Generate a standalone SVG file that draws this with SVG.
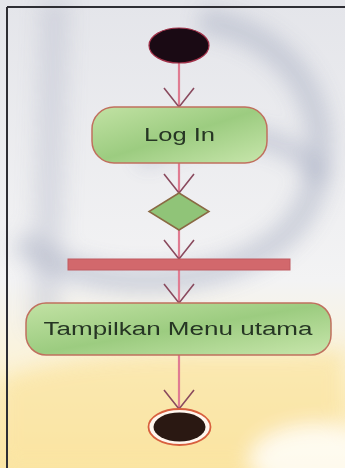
<svg xmlns="http://www.w3.org/2000/svg" width="345" height="468" viewBox="0 0 345 468">
<defs>
<filter id="blur" x="-50%" y="-50%" width="200%" height="200%"><feGaussianBlur stdDeviation="10"/></filter>
<linearGradient id="bg" x1="0" y1="0" x2="0" y2="1">
<stop offset="0" stop-color="#e4e5ea"/>
<stop offset="0.6" stop-color="#f3f3f4"/>
<stop offset="0.8" stop-color="#fcf3d6"/>
<stop offset="1" stop-color="#fbe6a6"/>
</linearGradient>
<linearGradient id="green" x1="0" y1="0" x2="1" y2="1">
<stop offset="0" stop-color="#c2e2a4"/>
<stop offset="0.5" stop-color="#9ccc80"/>
<stop offset="1" stop-color="#c8e6ac"/>
</linearGradient>
<marker id="arr" markerWidth="22" markerHeight="32" refX="20" refY="16" orient="auto" markerUnits="userSpaceOnUse" viewBox="0 0 22 32">
<path d="M1,1 L20,16 L1,31" fill="none" stroke="#8a4a5e" stroke-width="1.6"/>
</marker>
<style>
.lbl{font-family:"Liberation Sans",Arial,sans-serif;font-size:18px;fill:#263624;text-anchor:middle}
.act{fill:url(#green);stroke:#c0705e;stroke-width:1.5}
.flow{stroke:#e07c92;stroke-width:2.2;fill:none}
</style>
</defs>
<g id="background">
<rect x="0" y="0" width="345" height="468" fill="url(#bg)"/>
<g filter="url(#blur)" opacity="0.8">
<path d="M40,0 L70,0 L60,330 L30,330 Z" fill="#b8bccb" opacity="0.5"/>
<path d="M200,20 C330,40 345,170 290,230 C230,290 90,300 20,240" fill="none" stroke="#9aa1ba" stroke-width="26" opacity="0.5"/>
<path d="M140,160 C200,120 300,130 320,180" fill="none" stroke="#8f97b2" stroke-width="20" opacity="0.45"/>
<path d="M0,380 C100,340 250,360 345,350 L345,420 L260,468 L0,468 Z" fill="#fbe3a0" opacity="0.9"/>
<ellipse cx="320" cy="460" rx="70" ry="35" fill="#ffffff"/>
</g>
<path d="M7,7 L345,7" stroke="#2e2e34" stroke-width="2"/>
<path d="M7,7 L7,468" stroke="#2e2e34" stroke-width="2"/>
</g>
<g id="connectors">
<path class="flow" d="M179,63 L179,107" marker-end="url(#arr)"/>
<path class="flow" d="M179,163 L179,193" marker-end="url(#arr)"/>
<path class="flow" d="M179,230 L179,259" marker-end="url(#arr)"/>
<path class="flow" d="M179,270 L179,303" marker-end="url(#arr)"/>
<path class="flow" d="M179,355 L179,409" marker-end="url(#arr)"/>
</g>
<g id="start">
<ellipse cx="179" cy="45.5" rx="30" ry="17.5" fill="#1a0a14" stroke="#a03048" stroke-width="1.2"/>
</g>
<g id="login">
<rect class="act" x="92" y="107" width="175" height="56" rx="22" ry="22"/>
<text class="lbl" x="179.5" y="141" textLength="71" lengthAdjust="spacingAndGlyphs">Log In</text>
</g>
<g id="decision">
<path d="M179,193 L209,211.5 L179,230 L149,211.5 Z" fill="#90c478" stroke="#8a6a44" stroke-width="1.5"/>
</g>
<g id="fork">
<rect x="68" y="259" width="222" height="11" fill="#d2686c" stroke="#c05a60" stroke-width="1"/>
</g>
<g id="menu">
<rect class="act" x="26" y="303" width="305" height="52" rx="20" ry="20"/>
<text class="lbl" x="178" y="335" textLength="269" lengthAdjust="spacingAndGlyphs">Tampilkan Menu utama</text>
</g>
<g id="end">
<ellipse cx="179.5" cy="427" rx="31" ry="18" fill="#fff6ee" stroke="#d8603e" stroke-width="1.8"/>
<ellipse cx="179.5" cy="427" rx="26" ry="14.5" fill="#2a1812"/>
</g>
</svg>
